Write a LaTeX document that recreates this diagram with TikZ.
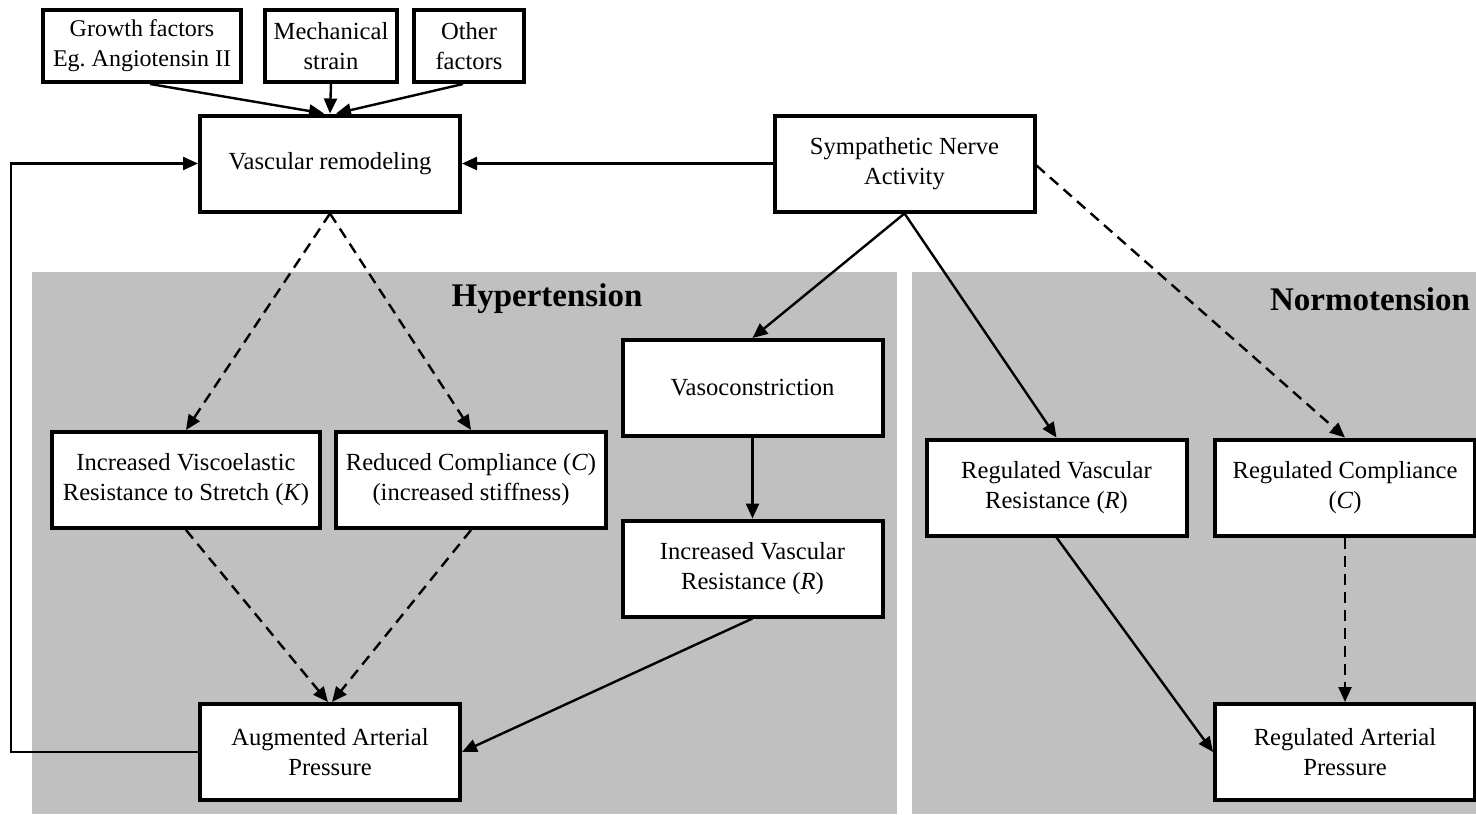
\documentclass[tikz,border=0pt]{standalone}
\usepackage{fontspec}
\setmainfont{Liberation Serif}
\usetikzlibrary{arrows.meta}
\definecolor{panel}{RGB}{192,192,192}
\frenchspacing
\tikzset{
  box/.style={draw=black, line width=2pt, fill=white, rectangle, align=center,
    font=\fontsize{12.3}{15}\selectfont, inner sep=2pt},
  std/.style={box, minimum width=130pt, minimum height=48pt},
  arr/.style={line width=1.2pt, -{Triangle[length=7.5pt,width=6.5pt]}},
  darr/.style={arr, dash pattern=on 5.5pt off 3.5pt},
  title/.style={font=\fontsize{16.5}{18}\selectfont\bfseries}
}
\begin{document}
\begin{tikzpicture}[x=0.5pt,y=-0.5pt]
\useasboundingbox (0,0) rectangle (1476,814);
% panels
\fill[panel] (32,272) rectangle (897,814);
\fill[panel] (912,272) rectangle (1476,814);
\node[title] (hyp) at (547,299) {Hypertension};
\node[title] (norm) at (1370,299) {Normotension};
% top factor boxes
\node[box, font=\fontsize{12}{15}\selectfont, minimum width=99pt, minimum height=36pt] (gf) at (142,46) {Growth factors\\Eg. Angiotensin II};
\node[box, minimum width=66pt, minimum height=36pt] (ms) at (331,46) {Mechanical\\strain};
\node[box, minimum width=55pt, minimum height=36pt] (of) at (469,46) {Other\\factors};
% main boxes
\node[std] (vr) at (330,163.5) {Vascular remodeling};
\node[std] (sna) at (904.5,163.5) {Sympathetic Nerve\\Activity};
\node[std] (vc) at (752.5,388) {Vasoconstriction};
\node[box, minimum width=134pt, minimum height=48pt] (ive) at (186,480) {Increased Viscoelastic\\Resistance to Stretch (\textit{K})};
\node[box, minimum width=135pt, minimum height=48pt] (rc) at (471,480) {Reduced Compliance (\textit{C})\\(increased stiffness)};
\node[std] (ivr) at (752.5,568.5) {Increased Vascular\\Resistance (\textit{R})};
\node[std] (rvr) at (1056.5,487.5) {Regulated Vascular\\Resistance (\textit{R})};
\node[std] (rcp) at (1345,487.5) {Regulated Compliance\\(\textit{C})};
\node[std] (aap) at (330,752) {Augmented Arterial\\Pressure};
\node[std] (rap) at (1345,752) {Regulated Arterial\\Pressure};
% connectors
\draw[arr] ([xshift=4pt]gf.south) -- ([xshift=-3pt]vr.north);
\draw[arr] (ms.south) -- (vr.north);
\draw[arr] ([xshift=-3pt]of.south) -- ([xshift=3pt]vr.north);
\draw[arr] (sna.west) -- (vr.east);
\draw[arr] (aap.west) -- ++(-187,0) |- (vr.west);
\draw[darr] (vr.south) -- (ive.north);
\draw[darr] (vr.south) -- (rc.north);
\draw[darr] (ive.south) -- ([xshift=-1pt]aap.north);
\draw[darr] (rc.south) -- ([xshift=1pt]aap.north);
\draw[arr] (sna.south) -- (vc.north);
\draw[arr] (sna.south) -- (rvr.north);
\draw[darr] ([yshift=-1pt]sna.east) -- (rcp.north);
\draw[arr] (vc.south) -- (ivr.north);
\draw[arr] (ivr.south) -- (aap.east);
\draw[arr] (rvr.south) -- (rap.west);
\draw[darr] (rcp.south) -- (rap.north);
\end{tikzpicture}
\end{document}
